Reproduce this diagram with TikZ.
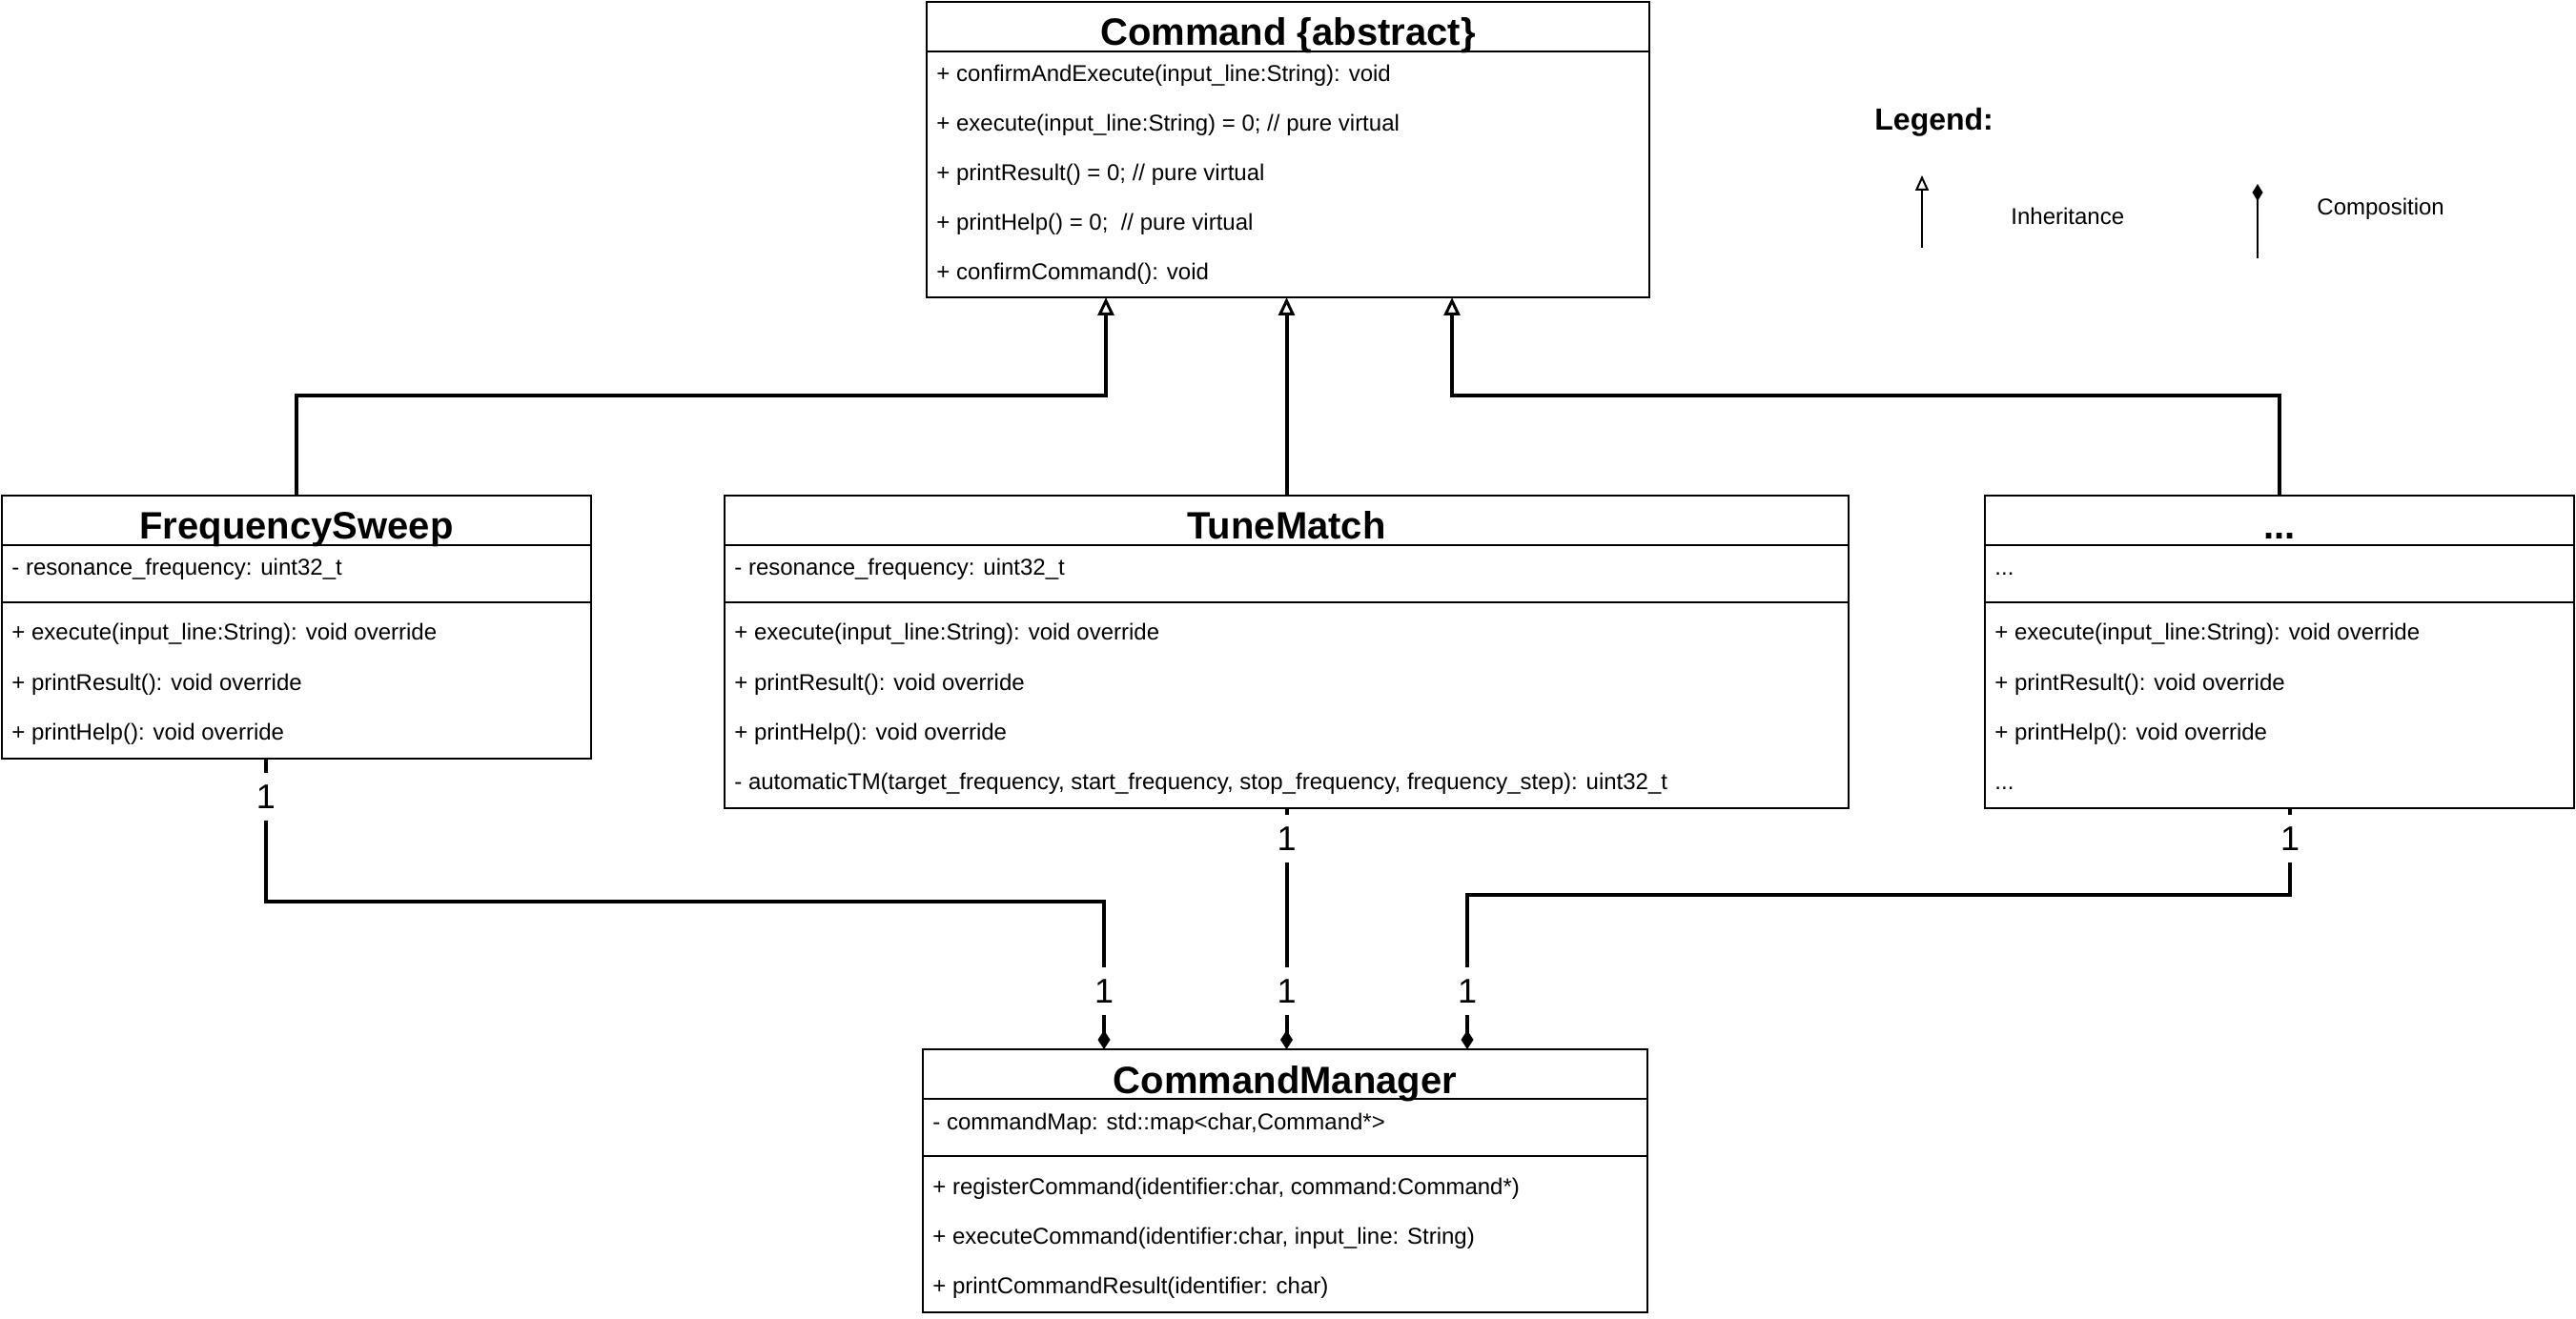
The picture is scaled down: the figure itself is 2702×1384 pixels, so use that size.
\documentclass[tikz,border=0pt]{standalone}
\usepackage{fontspec}
\setmainfont{Liberation Sans}
\usetikzlibrary{arrows.meta,calc}
\tikzset{
  classbox/.style={draw, line width=1pt, outer sep=0pt, inner sep=0pt, anchor=north west},
  classline/.style={line width=1pt},
  classname/.style={font=\fontsize{20pt}{24pt}\selectfont\bfseries, anchor=base, inner sep=0pt},
  member/.style={font=\fontsize{12pt}{14pt}\selectfont, anchor=base west, inner sep=0pt},
  mult/.style={font=\fontsize{18pt}{22pt}\selectfont, fill=white, inner sep=0pt, minimum height=25pt, minimum width=12pt},
  inherit/.style={line width=2pt, -{Triangle[open,length=9.5pt,width=8.5pt,line width=1.5pt]}},
  compose/.style={line width=2pt, -{Diamond[length=10pt,width=6.5pt]}},
}
\begin{document}
\begin{tikzpicture}[x=0.5pt,y=-0.5pt]
\useasboundingbox (0,0) rectangle (2702,1384);

\node[classbox, minimum width=379pt, minimum height=155pt] (cmd) at (972,2) {};
\draw[classline] (cmd.north west) ++(0,52) -- ++(758,0);
\node[classname] (cmdname) at (1351,48) {Command \{abstract\}};
\node[member] (cmd1) at (982,86) {+ confirmAndExecute(input\_line:String): void};
\node[member] (cmd2) at (982,138) {+ execute(input\_line:String) = 0; // pure virtual};
\node[member] (cmd3) at (982,190) {+ printResult() = 0; // pure virtual};
\node[member] (cmd4) at (982,242) {+ printHelp() = 0;~ // pure virtual};
\node[member] (cmd5) at (982,294) {+ confirmCommand(): void};

\node[classbox, minimum width=309pt, minimum height=138pt] (fs) at (2,520) {};
\draw[classline] (fs.north west) ++(0,52) -- ++(618,0);
\draw[classline] (fs.north west) ++(0,112) -- ++(618,0);
\node[classname] (fsname) at (311,566) {FrequencySweep};
\node[member] (fs1) at (12,604) {- resonance\_frequency: uint32\_t};
\node[member] (fs2) at (12,672) {+ execute(input\_line:String): void override};
\node[member] (fs3) at (12,724) {+ printResult(): void override};
\node[member] (fs4) at (12,776) {+ printHelp(): void override};

\node[classbox, minimum width=589.5pt, minimum height=164pt] (tm) at (760,520) {};
\draw[classline] (tm.north west) ++(0,52) -- ++(1179,0);
\draw[classline] (tm.north west) ++(0,112) -- ++(1179,0);
\node[classname] (tmname) at (1349.5,566) {TuneMatch};
\node[member] (tm1) at (770,604) {- resonance\_frequency: uint32\_t};
\node[member] (tm2) at (770,672) {+ execute(input\_line:String): void override};
\node[member] (tm3) at (770,724) {+ printResult(): void override};
\node[member] (tm4) at (770,776) {+ printHelp(): void override};
\node[member] (tm5) at (770,828) {- automaticTM(target\_frequency, start\_frequency, stop\_frequency, frequency\_step): uint32\_t};

\node[classbox, minimum width=309pt, minimum height=164pt] (dots) at (2082,520) {};
\draw[classline] (dots.north west) ++(0,52) -- ++(618,0);
\draw[classline] (dots.north west) ++(0,112) -- ++(618,0);
\node[classname] (dotsname) at (2391,566) {...};
\node[member] (dots1) at (2092,604) {...};
\node[member] (dots2) at (2092,672) {+ execute(input\_line:String): void override};
\node[member] (dots3) at (2092,724) {+ printResult(): void override};
\node[member] (dots4) at (2092,776) {+ printHelp(): void override};
\node[member] (dots5) at (2092,828) {...};

\node[classbox, minimum width=380pt, minimum height=138pt] (cm) at (968,1101) {};
\draw[classline] (cm.north west) ++(0,52) -- ++(760,0);
\draw[classline] (cm.north west) ++(0,112) -- ++(760,0);
\node[classname] (cmname) at (1348,1147) {CommandManager};
\node[member] (cm1) at (978,1185) {- commandMap: std::map<char,Command*>};
\node[member] (cm2) at (978,1253) {+ registerCommand(identifier:char, command:Command*)};
\node[member] (cm3) at (978,1305) {+ executeCommand(identifier:char, input\_line: String)};
\node[member] (cm4) at (978,1357) {+ printCommandResult(identifier: char)};

\coordinate (cmdA) at (1160,312);
\coordinate (cmdB) at (1523,312);
\draw[inherit] (fs.north) -- ++(0,-105) -| (cmdA);
\draw[inherit] (tm.north) -- (tm.north |- cmd.south);
\draw[inherit] (dots.north) -- ++(0,-105) -| (cmdB);

\coordinate (fsOut) at ($(fs.south)+(-32,0)$);
\coordinate (dotsOut) at ($(dots.south)+(11,0)$);
\coordinate (cmA) at (1158,1101);
\coordinate (cmB) at (1539,1101);
\draw[compose] (fsOut) -- ++(0,150) -| (cmA);
\draw[compose] (tm.south) -- (tm.south |- cm.north);
\draw[compose] (dotsOut) -- ++(0,91) -| (cmB);

\node[mult] (fsm1) at (279,836) {1};
\node[mult] (fsm2) at (1158,1040) {1};
\node[mult] (tmm1) at (1349.5,880) {1};
\node[mult] (tmm2) at (1349.5,1040) {1};
\node[mult] (dotsm1) at (2402,880) {1};
\node[mult] (dotsm2) at (1539,1040) {1};

\node[font=\fontsize{16pt}{19pt}\selectfont\bfseries, anchor=base west, inner sep=0pt] (legend) at (1966,137) {Legend:};
\coordinate (inhFrom) at (2016,260);
\coordinate (inhTo) at (2016,184);
\draw[line width=1pt, -{Triangle[open,length=8pt,width=7pt]}] (inhFrom) -- (inhTo);
\node[member] (inhtext) at (2109,236) {Inheritance};
\coordinate (comFrom) at (2368,271);
\coordinate (comTo) at (2368,193);
\draw[line width=1pt, -{Diamond[length=9pt,width=5.5pt]}] (comFrom) -- (comTo);
\node[member] (comtext) at (2430,226) {Composition};
\end{tikzpicture}
\end{document}
